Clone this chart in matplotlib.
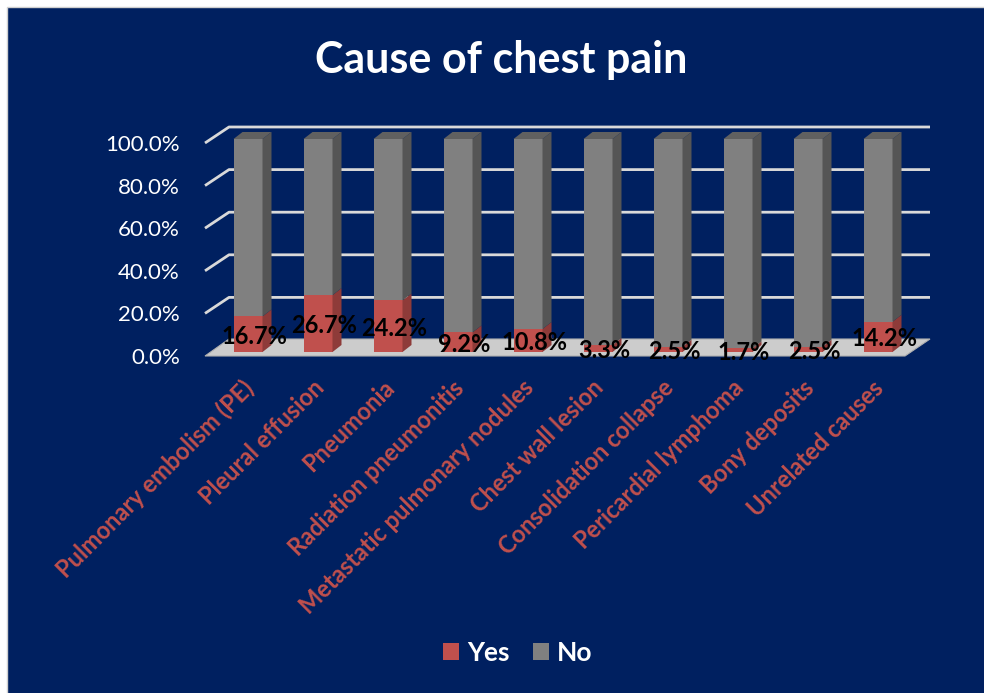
import matplotlib
matplotlib.use("Agg")
import matplotlib.pyplot as plt
from matplotlib.patches import Polygon, Rectangle, Patch

categories = ["Pulmonary embolism (PE)", "Pleural effusion", "Pneumonia",
              "Radiation pneumonitis", "Metastatic pulmonary nodules",
              "Chest wall lesion", "Consolidation collapse",
              "Pericardial lymphoma", "Bony deposits", "Unrelated causes"]
yes_pct = [16.7, 26.7, 24.2, 9.2, 10.8, 3.3, 2.5, 1.7, 2.5, 14.2]
no_pct = [100 - v for v in yes_pct]
y_ticks = [0, 20, 40, 60, 80, 100]

navy = "#002060"
red = "#C0504D"
red_side = "#8E3B39"
gray = "#808080"
gray_side = "#555555"
gray_top = "#606060"

plt.rcParams['font.family'] = ['Lato', 'DejaVu Sans']

fig = plt.figure(figsize=(9.84, 6.93), dpi=100)
fig.patch.set_facecolor("white")
fig.add_artist(Rectangle((7 / 984, -0.01), 1.02, 1.01 - 7 / 693, transform=fig.transFigure,
                         facecolor=navy, edgecolor="#d0d0d0", lw=1, zorder=-5))

# axes: x in category units (70 px each), y in percent (2.13 px each)
ax = fig.add_axes([205 / 984, (693 - 352) / 693, 730 / 984, 213 / 693])
px_x = 70.0
px_y = 2.13
xl = -43 / px_x
xr = 687 / px_x
ax.set_xlim(xl, xr)
ax.set_ylim(0, 100)
ax.axis("off")

# 3d-ish offsets (pixels -> data)
bdx, bdy = 24 / px_x, 12 / px_y     # back wall
fdy = -4 / px_y                    # front edge of floor
ddx, ddy = 9 / px_x, 7 / px_y      # bar depth
w = 29 / px_x

# floor
floor = Polygon([(xl, fdy), (xr - 30 / px_x, fdy), (xr - 5 / px_x, bdy + 1 / px_y), (xl + bdx, bdy + 1 / px_y)],
                closed=True, facecolor="#cccccc", edgecolor="#b0b0b0", lw=0.8, zorder=1, clip_on=False)
ax.add_patch(floor)

# gridlines + y labels
for v in y_ticks:
    if v > 0:
        ax.plot([xl, xl + bdx, xr - 5 / px_x], [v + fdy, v + bdy, v + bdy],
                color="#d9d9d9", lw=2, zorder=0.5, clip_on=False, solid_capstyle="butt")
    ax.text(xl - 25 / px_x, v - 6 / px_y, f"{v:.1f}%", ha="right", va="center",
            color="white", fontsize=16)

# bars
for i in range(len(categories)):
    y = yes_pct[i]
    n = no_pct[i]
    x0 = i - w / 2
    x1 = i + w / 2
    ax.add_patch(Rectangle((x0, 0), w, y, facecolor=red, edgecolor="none", zorder=3))
    ax.add_patch(Polygon([(x1, 0), (x1 + ddx, ddy), (x1 + ddx, y + ddy), (x1, y)],
                         facecolor=red_side, edgecolor="none", zorder=3))
    ax.add_patch(Rectangle((x0, y), w, n, facecolor=gray, edgecolor="none", zorder=3))
    ax.add_patch(Polygon([(x1, y), (x1 + ddx, y + ddy), (x1 + ddx, 100 + ddy), (x1, 100)],
                         facecolor=gray_side, edgecolor="none", zorder=3, clip_on=False))
    ax.add_patch(Polygon([(x0, 100), (x1, 100), (x1 + ddx, 100 + ddy), (x0 + ddx, 100 + ddy)],
                         facecolor=gray_top, edgecolor="none", zorder=3, clip_on=False))
    ax.text(i + 6 / px_x, y / 2 - 2 / px_y, f"{y}%", ha="center", va="center",
            color="black", fontsize=17, fontweight="bold", zorder=5)
    ax.text(i - 6 / px_x, -24 / px_y, categories[i], rotation=45, ha="right", va="top",
            rotation_mode="anchor", color=red, fontsize=17, fontweight="bold")

fig.text(0.509, 0.914, "Cause of chest pain", ha="center", va="center",
         color="white", fontsize=31, fontweight="bold")

handles = [Patch(facecolor=red, label="Yes"), Patch(facecolor=gray, label="No")]
leg = fig.legend(handles=handles, loc="center", bbox_to_anchor=(0.526, 0.058), ncol=2,
                 frameon=False, handlelength=0.6, handleheight=0.6, handletextpad=0.3,
                 columnspacing=0.9, fontsize=19)
for t in leg.get_texts():
    t.set_color("white")
    t.set_fontweight("bold")

fig.savefig("out.png", dpi=100, facecolor=fig.get_facecolor())
